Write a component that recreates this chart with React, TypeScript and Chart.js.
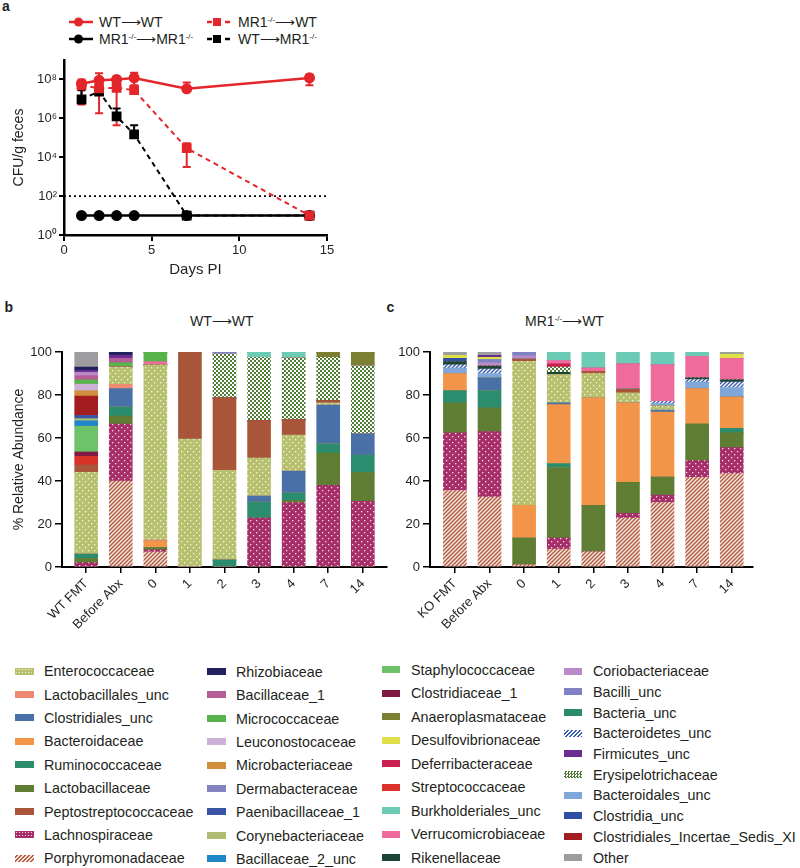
import React, { useEffect, useRef } from 'react';
import { Chart, registerables } from 'chart.js';

Chart.register(...registerables);
const FONT = '"Liberation Sans", Arial, Helvetica, sans-serif';
Chart.defaults.font.family = FONT;
Chart.defaults.color = '#231f20';

// ---------------- Panel a data ----------------
const daysPI = [1, 2, 3, 4, 7, 14];
const xTicksA = [0, 5, 10, 15];
const yTicksA = [1, 1e2, 1e4, 1e6, 1e8];
const detectionLimit = 100;

const wtToWt = [6e7, 9e7, 1e8, 1.2e8, 3.3e7, 1.2e8];
const wtToWtLow = [4e7, 1.8e6, 8e7, 5e7, 2.7e7, 5e7];
const wtToWtHigh = [1e8, 2.1e8, 1.3e8, 2.2e8, 7e7, 1.8e8];

const mr1ToWt = [5e7, 3.5e7, 3.7e7, 2.8e7, 2.9e4, 10];
const mr1ToWtLow = [5.2e6, null, 4.4e5, null, 3.1e3, null];
const mr1ToWtHigh = [8e7, null, 6e7, null, 5.2e4, null];

const mr1ToMr1 = [10, 10, 10, 10, 10, 10];

const wtToMr1 = [9.4e6, 2.4e7, 1.26e6, 1.5e5, 10, 10];
const wtToMr1Low = [5.9e6, 1.6e7, 1e6, 1.2e5, null, null];
const wtToMr1High = [2.8e7, 7e7, 3.2e6, 4.4e5, null, null];

// ---------------- Panel b / c categories ----------------
const labelsB = ['WT FMT', 'Before Abx', '0', '1', '2', '3', '4', '7', '14'];
const labelsC = ['KO FMT', 'Before Abx', '0', '1', '2', '3', '4', '7', '14'];
const yTicksBar = [0, 20, 40, 60, 80, 100];

// Panel b (WT -> WT), % relative abundance per family
const bPorphyromonadaceae = [0, 40, 7, 0, 0, 0, 0, 0, 0];
const bLachnospiraceae = [2, 26.5, 1, 0, 0, 22.8, 30, 38, 30.5];
const bLactobacillaceae = [2, 3.7, 1, 0, 0, 0, 1, 15, 13.5];
const bRuminococcaceae = [2, 4.2, 0, 0, 3.3, 7.4, 3.4, 4.3, 8];
const bBacteroidaceae = [0, 0, 3, 0, 0, 0, 0, 0, 0];
const bClostridiales_unc = [0, 8.6, 0, 0, 0, 2.8, 10.2, 18, 10];
const bLactobacillales_unc = [0, 2, 0.5, 0, 0, 0, 0, 0, 0];
const bEnterococcaceae = [38, 8, 81.5, 59.5, 41.7, 17.7, 16.8, 1, 0];
const bPeptostreptococcaceae = [3.5, 0, 0, 40.5, 33.6, 17.3, 7, 1, 0];
const bStreptococcaceae = [4, 0, 0, 0, 0, 0, 0, 0, 0];
const bClostridiaceae_1 = [2, 0, 0, 0, 0, 0, 0, 0, 0];
const bStaphylococcaceae = [12, 0, 0, 0, 0, 0, 0, 0, 0];
const bBacillaceae_2_unc = [2.5, 0, 0, 0, 0, 0, 0, 0, 0];
const bCorynebacteriaceae = [1, 0, 0, 0, 0, 0, 0, 0, 0];
const bPaenibacillaceae_1 = [1.5, 0, 0, 0, 0, 0, 0, 0, 0];
const bClostridiales_Incertae_Sedis_XI = [9, 0, 0, 0, 0, 0, 0, 0, 0];
const bMicrobacteriaceae = [2.5, 0, 0, 0, 0, 0, 0, 0, 0];
const bLeuconostocaceae = [3, 0, 0, 0, 0, 0, 0, 0, 0];
const bErysipelotrichaceae = [0, 0, 0, 0, 20.4, 29.5, 28.8, 20.2, 31.5];
const bVerrucomicrobiaceae = [0, 0, 1.5, 0, 0, 0, 0, 0, 0];
const bMicrococcaceae = [2, 2, 4.5, 0, 0, 0, 0, 0, 0];
const bBacillaceae_1 = [2, 2, 0, 0, 0, 0, 0, 0, 0];
const bCoriobacteriaceae = [1.5, 0, 0, 0, 0, 0, 0, 0, 0];
const bBacilli_unc = [0, 0, 0, 0, 1, 0, 0, 0, 0];
const bAnaeroplasmataceae = [0, 0, 0, 0, 0, 0, 0, 2.5, 6.5];
const bBurkholderiales_unc = [0, 0, 0, 0, 0, 2.5, 2.8, 0, 0];
const bFirmicutes_unc = [1, 1.5, 0, 0, 0, 0, 0, 0, 0];
const bRhizobiaceae = [1.5, 1.5, 0, 0, 0, 0, 0, 0, 0];
const bOther = [7, 0, 0, 0, 0, 0, 0, 0, 0];

// Panel c (MR1-/- -> WT)
const cPorphyromonadaceae = [35.6, 32.5, 1, 8.3, 7, 22.7, 30, 41.7, 43.5];
const cLachnospiraceae = [26.8, 30.5, 0, 5.1, 0, 2.3, 3.5, 7.8, 12];
const cLactobacillaceae = [14, 11, 12.4, 32.9, 21.7, 14.4, 8.3, 17, 7];
const cRuminococcaceae = [5.6, 8, 0, 1.8, 0, 0, 0, 0, 2];
const cBacteroidaceae = [8, 0, 15.3, 27.4, 50, 37, 30.2, 16.5, 14.5];
const cClostridiales_unc = [0, 6, 0, 0.9, 0, 0, 1, 0, 0];
const cEnterococcaceae = [0, 0, 67, 13.1, 11.3, 4.6, 2, 0, 0];
const cPeptostreptococcaceae = [0, 0, 1, 0, 1, 1.8, 0, 0, 0];
const cBacteroidales_unc = [2.5, 2, 0, 0, 0, 0, 1, 3, 4.5];
const cBacteroidetes_unc = [1.5, 2, 0, 0, 0, 0, 1, 1.2, 2.5];
const cRikenellaceae = [1.5, 1.5, 0, 1, 0, 0, 0, 0.8, 1];
const cErysipelotrichaceae = [0, 0, 0, 2.5, 0, 0, 0, 0, 0];
const cDeferribacteraceae = [0, 0, 0, 1.5, 0, 0, 0, 0, 0];
const cVerrucomicrobiaceae = [0, 0, 0, 1.5, 1.5, 11.7, 17, 10, 10];
const cCoriobacteriaceae = [0, 1.5, 1.5, 0, 0, 0, 0, 0, 0];
const cBacilli_unc = [0, 1.5, 1.8, 0, 0, 0, 0, 0, 0];
const cClostridia_unc = [1.5, 0, 0, 0, 0, 0, 0, 0, 0];
const cDesulfovibrionaceae = [1.5, 1, 0, 0, 0, 0, 0, 0, 2];
const cBurkholderiales_unc = [0, 0, 0, 4, 7.5, 5.5, 6, 2, 0];
const cFirmicutes_unc = [0, 1, 0, 0, 0, 0, 0, 0, 0];
const cOther = [1.5, 1.5, 0, 0, 0, 0, 0, 0, 1];

// Legend columns (as printed)
const legendCol1 = ['Enterococcaceae', 'Lactobacillales_unc', 'Clostridiales_unc', 'Bacteroidaceae', 'Ruminococcaceae', 'Lactobacillaceae', 'Peptostreptococcaceae', 'Lachnospiraceae', 'Porphyromonadaceae'];
const legendCol2 = ['Rhizobiaceae', 'Bacillaceae_1', 'Micrococcaceae', 'Leuconostocaceae', 'Microbacteriaceae', 'Dermabacteraceae', 'Paenibacillaceae_1', 'Corynebacteriaceae', 'Bacillaceae_2_unc'];
const legendCol3 = ['Staphylococcaceae', 'Clostridiaceae_1', 'Anaeroplasmataceae', 'Desulfovibrionaceae', 'Deferribacteraceae', 'Streptococcaceae', 'Burkholderiales_unc', 'Verrucomicrobiaceae', 'Rikenellaceae'];
const legendCol4 = ['Coriobacteriaceae', 'Bacilli_unc', 'Bacteria_unc', 'Bacteroidetes_unc', 'Firmicutes_unc', 'Erysipelotrichaceae', 'Bacteroidales_unc', 'Clostridia_unc', 'Clostridiales_Incertae_Sedis_XI', 'Other'];

// Stacking order (bottom -> top)
const stackOrder = ['Porphyromonadaceae', 'Lachnospiraceae', 'Lactobacillaceae', 'Ruminococcaceae', 'Bacteroidaceae', 'Clostridiales_unc', 'Lactobacillales_unc', 'Enterococcaceae', 'Peptostreptococcaceae', 'Streptococcaceae', 'Clostridiaceae_1', 'Staphylococcaceae', 'Bacillaceae_2_unc', 'Corynebacteriaceae', 'Paenibacillaceae_1', 'Clostridiales_Incertae_Sedis_XI', 'Microbacteriaceae', 'Leuconostocaceae', 'Bacteria_unc', 'Bacteroidales_unc', 'Bacteroidetes_unc', 'Rikenellaceae', 'Erysipelotrichaceae', 'Deferribacteraceae', 'Verrucomicrobiaceae', 'Micrococcaceae', 'Bacillaceae_1', 'Coriobacteriaceae', 'Dermabacteraceae', 'Bacilli_unc', 'Clostridia_unc', 'Anaeroplasmataceae', 'Desulfovibrionaceae', 'Burkholderiales_unc', 'Firmicutes_unc', 'Rhizobiaceae', 'Other'];

const panelB: Record<string, number[]> = {
  Porphyromonadaceae: bPorphyromonadaceae, Lachnospiraceae: bLachnospiraceae, Lactobacillaceae: bLactobacillaceae,
  Ruminococcaceae: bRuminococcaceae, Bacteroidaceae: bBacteroidaceae, Clostridiales_unc: bClostridiales_unc,
  Lactobacillales_unc: bLactobacillales_unc, Enterococcaceae: bEnterococcaceae, Peptostreptococcaceae: bPeptostreptococcaceae,
  Streptococcaceae: bStreptococcaceae, Clostridiaceae_1: bClostridiaceae_1, Staphylococcaceae: bStaphylococcaceae,
  Bacillaceae_2_unc: bBacillaceae_2_unc, Corynebacteriaceae: bCorynebacteriaceae, Paenibacillaceae_1: bPaenibacillaceae_1,
  Clostridiales_Incertae_Sedis_XI: bClostridiales_Incertae_Sedis_XI, Microbacteriaceae: bMicrobacteriaceae,
  Leuconostocaceae: bLeuconostocaceae, Erysipelotrichaceae: bErysipelotrichaceae, Verrucomicrobiaceae: bVerrucomicrobiaceae,
  Micrococcaceae: bMicrococcaceae, Bacillaceae_1: bBacillaceae_1, Coriobacteriaceae: bCoriobacteriaceae,
  Bacilli_unc: bBacilli_unc, Anaeroplasmataceae: bAnaeroplasmataceae, Burkholderiales_unc: bBurkholderiales_unc,
  Firmicutes_unc: bFirmicutes_unc, Rhizobiaceae: bRhizobiaceae, Other: bOther,
};
const panelC: Record<string, number[]> = {
  Porphyromonadaceae: cPorphyromonadaceae, Lachnospiraceae: cLachnospiraceae, Lactobacillaceae: cLactobacillaceae,
  Ruminococcaceae: cRuminococcaceae, Bacteroidaceae: cBacteroidaceae, Clostridiales_unc: cClostridiales_unc,
  Enterococcaceae: cEnterococcaceae, Peptostreptococcaceae: cPeptostreptococcaceae, Bacteroidales_unc: cBacteroidales_unc,
  Bacteroidetes_unc: cBacteroidetes_unc, Rikenellaceae: cRikenellaceae, Erysipelotrichaceae: cErysipelotrichaceae,
  Deferribacteraceae: cDeferribacteraceae, Verrucomicrobiaceae: cVerrucomicrobiaceae, Coriobacteriaceae: cCoriobacteriaceae,
  Bacilli_unc: cBacilli_unc, Clostridia_unc: cClostridia_unc, Desulfovibrionaceae: cDesulfovibrionaceae,
  Burkholderiales_unc: cBurkholderiales_unc, Firmicutes_unc: cFirmicutes_unc, Other: cOther,
};

// ---------------- Styles ----------------
const RED = '#e3262b';
const BLACK = '#000000';

type Fill = { color: string; kind?: 'dots' | 'stripes' | 'checker'; fg?: string };
const FILLS: Record<string, Fill> = {
  Enterococcaceae: { color: '#b7c06f', kind: 'dots', fg: '#f6f4dc' },
  Lactobacillales_unc: { color: '#ee8a72' },
  Clostridiales_unc: { color: '#4a70a8' },
  Bacteroidaceae: { color: '#f39549' },
  Ruminococcaceae: { color: '#2b8c6e' },
  Lactobacillaceae: { color: '#5f7e34' },
  Peptostreptococcaceae: { color: '#a8553a' },
  Lachnospiraceae: { color: '#a62f69', kind: 'dots', fg: '#f4dbe6' },
  Porphyromonadaceae: { color: '#b0604a', kind: 'stripes', fg: '#fbe6da' },
  Rhizobiaceae: { color: '#20215e' },
  Bacillaceae_1: { color: '#b45d97' },
  Micrococcaceae: { color: '#56b44a' },
  Leuconostocaceae: { color: '#cdb0d8' },
  Microbacteriaceae: { color: '#d08f3c' },
  Dermabacteraceae: { color: '#8582c2' },
  Paenibacillaceae_1: { color: '#3954a6' },
  Corynebacteriaceae: { color: '#aebd72' },
  Bacillaceae_2_unc: { color: '#1f86c9' },
  Staphylococcaceae: { color: '#6ec26a' },
  Clostridiaceae_1: { color: '#7f1a43' },
  Anaeroplasmataceae: { color: '#7b7f32' },
  Desulfovibrionaceae: { color: '#dfe047' },
  Deferribacteraceae: { color: '#c91f4e' },
  Streptococcaceae: { color: '#da3129' },
  Burkholderiales_unc: { color: '#6ccbb4' },
  Verrucomicrobiaceae: { color: '#ee6b9b' },
  Rikenellaceae: { color: '#1c4535' },
  Coriobacteriaceae: { color: '#b98bc9' },
  Bacilli_unc: { color: '#8083c3' },
  Bacteria_unc: { color: '#2a8a6a' },
  Bacteroidetes_unc: { color: '#ffffff', kind: 'stripes', fg: '#3a5cb0' },
  Firmicutes_unc: { color: '#6b2d90' },
  Erysipelotrichaceae: { color: '#ffffff', kind: 'checker', fg: '#4f7d34' },
  Bacteroidales_unc: { color: '#80a7d9' },
  Clostridia_unc: { color: '#2f4fa2' },
  Clostridiales_Incertae_Sedis_XI: { color: '#a21c20' },
  Other: { color: '#9d9da0' },
};

function makeFill(name: string): any {
  const f = FILLS[name];
  if (!f.kind) return f.color;
  const c = document.createElement('canvas');
  const g = c.getContext('2d')!;
  if (f.kind === 'dots') {
    c.width = 6; c.height = 6;
    g.fillStyle = f.color; g.fillRect(0, 0, 6, 6);
    g.fillStyle = f.fg!;
    g.fillRect(1, 1, 1.3, 1.3);
    g.fillRect(4, 4, 1.3, 1.3);
  } else if (f.kind === 'stripes') {
    c.width = 4; c.height = 4;
    g.fillStyle = f.color; g.fillRect(0, 0, 4, 4);
    g.strokeStyle = f.fg!; g.lineWidth = 1.4;
    g.beginPath();
    g.moveTo(0, 4); g.lineTo(4, 0);
    g.moveTo(-1, 1); g.lineTo(1, -1);
    g.moveTo(3, 5); g.lineTo(5, 3);
    g.stroke();
  } else {
    c.width = 4; c.height = 4;
    g.fillStyle = f.color; g.fillRect(0, 0, 4, 4);
    g.fillStyle = f.fg!;
    g.fillRect(0, 0, 2, 2); g.fillRect(2, 2, 2, 2);
  }
  return g.createPattern(c, 'repeat');
}

function swatchCss(name: string): string {
  const f = FILLS[name];
  if (f.kind === 'dots') return `radial-gradient(circle, ${f.fg} 0.7px, transparent 1px) 0 0 / 3px 3px, ${f.color}`;
  if (f.kind === 'stripes') return `repeating-linear-gradient(135deg, ${f.fg} 0 1.4px, ${f.color} 1.4px 2.8px)`;
  if (f.kind === 'checker') return `conic-gradient(${f.fg} 25%, ${f.color} 0 50%, ${f.fg} 0 75%, ${f.color} 0) 0 0 / 3px 3px`;
  return f.color;
}

// ---------------- Plugins ----------------
const errorBarPlugin = {
  id: 'errorBars',
  beforeDatasetsDraw(chart: any) {
    const { ctx, scales } = chart;
    const xs = scales.x, ys = scales.y;
    chart.data.datasets.forEach((ds: any) => {
      if (!ds.errLow) return;
      ctx.save();
      ctx.strokeStyle = ds.borderColor;
      ctx.lineWidth = 2;
      ctx.setLineDash([]);
      ds.data.forEach((pt: any, i: number) => {
        const lo = ds.errLow[i], hi = ds.errHigh[i];
        if (lo == null || hi == null) return;
        const px = xs.getPixelForValue(pt.x);
        const yl = ys.getPixelForValue(lo), yh = ys.getPixelForValue(hi);
        ctx.beginPath();
        ctx.moveTo(px, yl); ctx.lineTo(px, yh);
        ctx.moveTo(px - 4, yl); ctx.lineTo(px + 4, yl);
        ctx.moveTo(px - 4, yh); ctx.lineTo(px + 4, yh);
        ctx.stroke();
      });
      ctx.restore();
    });
  },
};

const SUP: Record<number, string> = { 0: '\u2070', 2: '\u00b2', 4: '\u2074', 6: '\u2076', 8: '\u2078' };

function lineConfig(): any {
  const pts = (ys: number[]) => daysPI.map((d, i) => ({ x: d, y: ys[i] }));
  return {
    type: 'line',
    data: {
      datasets: [
        { label: 'WT\u2192WT', data: pts(wtToWt), borderColor: RED, backgroundColor: RED, borderWidth: 2.5, pointStyle: 'circle', pointRadius: 4.3, errLow: wtToWtLow, errHigh: wtToWtHigh },
        { label: 'MR1-/-\u2192WT', data: pts(mr1ToWt), borderColor: RED, backgroundColor: RED, borderWidth: 2, borderDash: [5, 4], pointStyle: 'rect', pointRadius: 5.5, errLow: mr1ToWtLow, errHigh: mr1ToWtHigh },
        { label: 'MR1-/-\u2192MR1-/-', data: pts(mr1ToMr1), borderColor: BLACK, backgroundColor: BLACK, borderWidth: 2.5, pointStyle: 'circle', pointRadius: 4.3 },
        { label: 'WT\u2192MR1-/-', data: pts(wtToMr1), borderColor: BLACK, backgroundColor: BLACK, borderWidth: 2, borderDash: [5, 4], pointStyle: 'rect', pointRadius: 5.5, errLow: wtToMr1Low, errHigh: wtToMr1High },
        { label: 'limit', data: [{ x: xTicksA[0], y: detectionLimit }, { x: xTicksA[xTicksA.length - 1], y: detectionLimit }], borderColor: BLACK, borderWidth: 1.6, borderDash: [2, 3], pointRadius: 0 },
      ],
    },
    options: {
      animation: false,
      responsive: false,
      layout: { padding: { top: 15, right: 73, left: 0, bottom: 0 } },
      plugins: { legend: { display: false }, tooltip: { enabled: false } },
      scales: {
        x: {
          type: 'linear', min: 0, max: 15,
          afterBuildTicks: (s: any) => { s.ticks = xTicksA.map((v) => ({ value: v })); },
          afterFit: (s: any) => { s.height = 55; },
          grid: { display: true, drawOnChartArea: false, drawTicks: true, tickLength: 6, color: BLACK, lineWidth: 2 },
          border: { display: true, color: BLACK, width: 2.5 },
          ticks: { font: { size: 13 }, color: '#231f20', padding: 2, maxRotation: 0 },
          title: { display: true, text: 'Days PI', font: { size: 15 }, color: '#231f20', padding: { top: 0, bottom: 11 } },
        },
        y: {
          type: 'logarithmic', min: 1, max: 1e9,
          afterBuildTicks: (s: any) => { s.ticks = yTicksA.map((v) => ({ value: v })); },
          afterFit: (s: any) => { s.width = 64; },
          grid: { display: true, drawOnChartArea: false, drawTicks: true, tickLength: 5, color: BLACK, lineWidth: 2 },
          border: { display: true, color: BLACK, width: 2.5 },
          ticks: {
            font: { size: 13 }, color: '#231f20', padding: 2,
            callback: (v: number) => '10' + SUP[Math.round(Math.log10(v))],
          },
          title: { display: true, text: 'CFU/g feces', font: { size: 14 }, color: '#231f20', padding: { top: 11, bottom: 0 } },
        },
      },
    },
    plugins: [errorBarPlugin],
  };
}

function barConfig(table: Record<string, number[]>, labels: string[], xmin: number, xmax: number, yWidth: number, rightPad: number, yTitle: string | null): any {
  const datasets = stackOrder
    .filter((n) => table[n])
    .map((n) => ({
      label: n,
      data: table[n].map((v, i) => ({ x: i, y: v })),
      backgroundColor: makeFill(n),
      borderWidth: 0,
      barThickness: 23,
      stack: 'all',
    }));
  return {
    type: 'bar',
    data: { datasets },
    options: {
      animation: false,
      responsive: false,
      layout: { padding: { top: 22, right: rightPad, left: 0, bottom: 0 } },
      plugins: { legend: { display: false }, tooltip: { enabled: false } },
      scales: {
        x: {
          type: 'linear', min: xmin, max: xmax, stacked: true, offset: false,
          afterBuildTicks: (s: any) => { s.ticks = labels.map((_, i) => ({ value: i })); },
          afterFit: (s: any) => { s.height = 63; },
          grid: { display: true, offset: false, drawOnChartArea: false, drawTicks: true, tickLength: 6, color: BLACK, lineWidth: 1.5 },
          border: { display: true, color: BLACK, width: 2 },
          ticks: {
            font: { size: 13 }, color: '#231f20', padding: 3, autoSkip: false, minRotation: 45, maxRotation: 45,
            callback: (v: number) => labels[Math.round(v)],
          },
        },
        y: {
          type: 'linear', min: 0, max: 100, stacked: true,
          afterBuildTicks: (s: any) => { s.ticks = yTicksBar.map((v) => ({ value: v })); },
          afterFit: (s: any) => { s.width = yWidth; },
          grid: { display: true, drawOnChartArea: false, drawTicks: true, tickLength: 7, color: BLACK, lineWidth: 1.5 },
          border: { display: true, color: BLACK, width: 2 },
          ticks: { font: { size: 13 }, color: '#231f20', padding: 3 },
          title: yTitle ? { display: true, text: yTitle, font: { size: 14 }, color: '#231f20', padding: { top: 11, bottom: 0 } } : { display: false },
        },
      },
    },
  };
}

function ChartBox({ make, left, top, width, height }: { make: () => any; left: number; top: number; width: number; height: number }) {
  const ref = useRef<HTMLCanvasElement | null>(null);
  useEffect(() => {
    const chart = new Chart(ref.current as HTMLCanvasElement, make());
    return () => chart.destroy();
  }, []);
  return (
    <div style={{ position: 'absolute', left, top, width, height }}>
      <canvas ref={ref} width={width} height={height} style={{ width, height, display: 'block' }} />
    </div>
  );
}

function LegendIcon({ color, dashed, marker, left, top }: { color: string; dashed: boolean; marker: 'circle' | 'square'; left: number; top: number }) {
  return (
    <svg width={24} height={12} style={{ position: 'absolute', left, top }}>
      <line x1={0} y1={6} x2={24} y2={6} stroke={color} strokeWidth={2.5} strokeDasharray={dashed ? '5 4' : undefined} />
      {marker === 'circle' ? <circle cx={9.5} cy={6} r={4.5} fill={color} /> : <rect x={6} y={2} width={8} height={8} fill={color} />}
    </svg>
  );
}

const Mr1 = () => (
  <>MR1<sup style={{ fontSize: 8, verticalAlign: 0, position: 'relative', top: -5 }}>-/-</sup></>
);

const txt = (left: number, top: number, size: number, extra: any = {}) => ({
  position: 'absolute' as const, left, top, fontSize: size, lineHeight: '16px', whiteSpace: 'nowrap' as const, color: '#231f20', ...extra,
});

export default function App() {
  const legendCols = [legendCol1, legendCol2, legendCol3, legendCol4];
  const colPos = [
    { sw: 15, tx: 44, y0: 671, dy: 23.4 },
    { sw: 207, tx: 236, y0: 671.5, dy: 23.4 },
    { sw: 381.5, tx: 411, y0: 669.5, dy: 23.5 },
    { sw: 563.5, tx: 593, y0: 671, dy: 20.7 },
  ];
  return (
    <div style={{ position: 'absolute', left: 0, top: 0, width: 800, height: 868, background: '#fff', fontFamily: FONT, overflow: 'hidden' }}>
      {/* panel labels */}
      <div style={txt(2, -2, 14, { fontWeight: 'bold' })}>a</div>
      <div style={txt(4.5, 299, 14, { fontWeight: 'bold' })}>b</div>
      <div style={txt(386.5, 299, 14, { fontWeight: 'bold' })}>c</div>

      {/* panel a legend */}
      <LegendIcon color={RED} dashed={false} marker="circle" left={69} top={16} />
      <div style={txt(99, 14, 14)}>WT⟶WT</div>
      <LegendIcon color={RED} dashed={true} marker="square" left={207} top={16} />
      <div style={txt(238, 14, 14)}><Mr1 />⟶WT</div>
      <LegendIcon color={BLACK} dashed={false} marker="circle" left={69} top={32.5} />
      <div style={txt(99, 30.5, 14)}><Mr1 />⟶<Mr1 /></div>
      <LegendIcon color={BLACK} dashed={true} marker="square" left={207} top={32.5} />
      <div style={txt(238, 30.5, 14)}>WT⟶<Mr1 /></div>

      <ChartBox make={lineConfig} left={0} top={45} width={400} height={245} />

      {/* panel titles */}
      <div style={txt(190, 313, 14)}>WT⟶WT</div>
      <div style={txt(525, 313, 14)}><Mr1 />⟶WT</div>

      <ChartBox make={() => barConfig(panelB, labelsB, -0.7, 8.7, 62, 5, '% Relative Abundance')} left={0} top={330} width={392} height={300} />
      <ChartBox make={() => barConfig(panelC, labelsC, -0.72, 8.6, 60, 47.5, null)} left={370} top={330} width={430} height={300} />

      {/* family legend */}
      {legendCols.map((col, ci) =>
        col.map((name, ri) => {
          const p = colPos[ci];
          const cy = p.y0 + ri * p.dy;
          return (
            <React.Fragment key={name}>
              <div style={{ position: 'absolute', left: p.sw, top: cy - 3.5, width: 18.5, height: 7, background: swatchCss(name) }} />
              <div style={txt(p.tx, cy - 7.8, 14.3)}>{name}</div>
            </React.Fragment>
          );
        })
      )}
    </div>
  );
}
